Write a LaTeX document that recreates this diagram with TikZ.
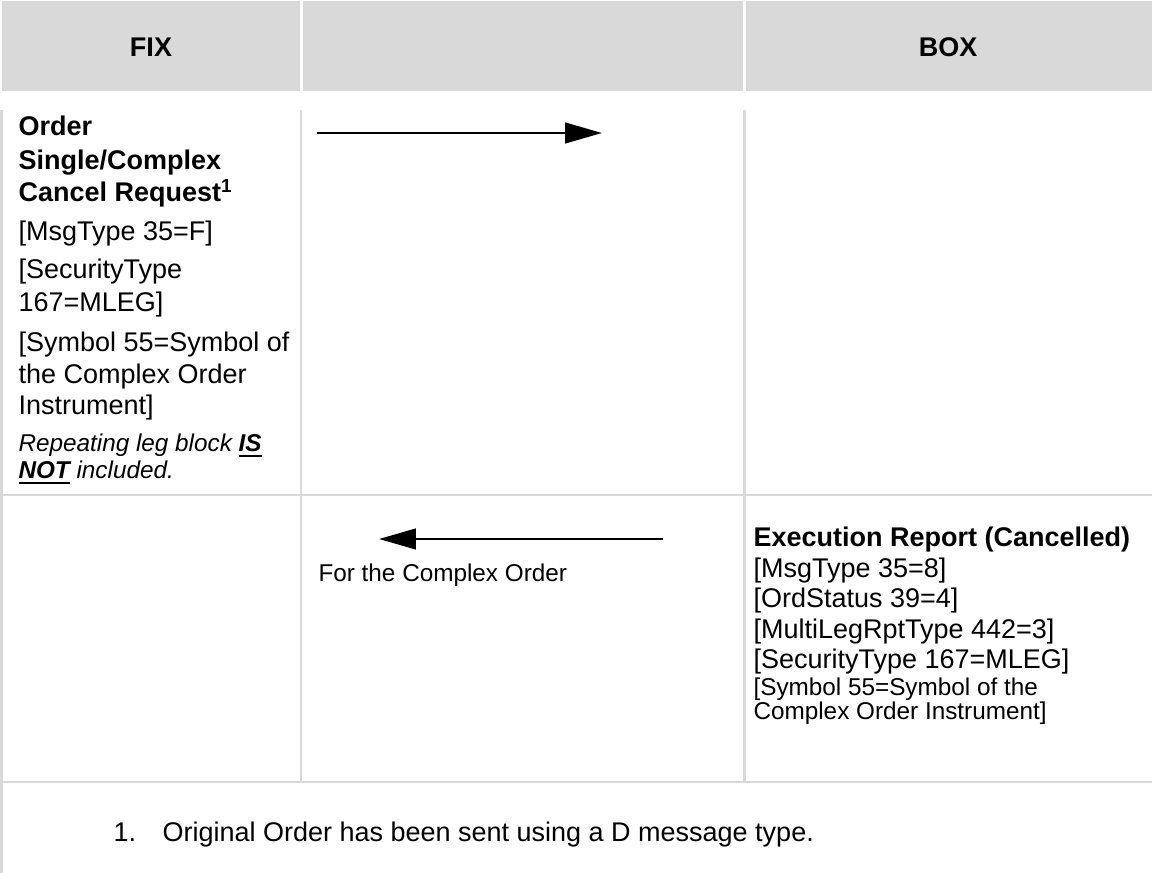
\documentclass[tikz,border=0pt]{standalone}
\usepackage{fontspec}
\setmainfont{Liberation Sans}
\usetikzlibrary{arrows.meta}
\definecolor{cellgray}{HTML}{D9D9D9}
% bold underline as in the word table
\def\bul#1{\setbox0\hbox{#1}\rlap{\rule[-2.4pt]{\wd0}{0.9pt}}\box0\relax}
\tikzset{
  hdr/.style={font=\bfseries, inner sep=0pt},
  txt/.style={anchor=base west, inner sep=0pt},
  txtb/.style={txt, font=\bfseries},
  txts/.style={txt, font=\small},
  rule/.style={draw=cellgray, line width=0.9pt},
  msg/.style={line width=1.1pt, -{Triangle[length=13.7pt,width=7.6pt]}},
}

\begin{document}
\begin{tikzpicture}[x=0.37037pt, y=-0.37037pt]
 \useasboundingbox (0,0) rectangle (1152,873);
 % header
 \fill[cellgray] (2,1) rectangle (300,91);
 \fill[cellgray] (303,1) rectangle (743,91);
 \fill[cellgray] (746,1) rectangle (1152,91);
 \node[hdr] (fix) at (151,47) {FIX};
 \node[hdr] (box) at (948,47) {BOX};
 % table rules
 \draw[rule] (1.5,110) -- (1.5,873);
 \draw[rule] (301,110) -- (301,782);
 \draw[rule] (744.5,110) -- (744.5,782);
 \draw[rule] (0,495) -- (1152,495);
 \draw[rule] (0,782) -- (1152,782);
 % cancel request
 \node[txtb] (req1) at (18,136) {Order};
 \node[txtb] (req2) at (18,169) {Single/Complex};
 \node[txtb] (req3) at (18,202) {Cancel Request\textsuperscript{1}};
 \node[txt] (req4) at (18,241) {[MsgType 35=F]};
 \node[txt] (req5) at (18,279) {[SecurityType};
 \node[txt] (req6) at (18,311) {167=MLEG]};
 \node[txt] (req7) at (18,351) {[Symbol 55=Symbol of};
 \node[txt] (req8) at (18,383) {the Complex Order};
 \node[txt] (req9) at (18,414) {Instrument]};
 \node[txts] (req10) at (18,451) {\itshape Repeating leg block \bul{\bfseries IS}};
 \node[txts] (req11) at (18,478) {\itshape \bul{\bfseries NOT} included.};
 \coordinate (reqa) at (317,133);
 \coordinate (reqb) at (602,133);
 \draw[msg] (reqa) -- (reqb);
 % execution report
 \coordinate (repa) at (663,539);
 \coordinate (repb) at (379,539);
 \draw[msg] (repa) -- (repb);
 \node[txts] (forc) at (318,581) {For the Complex Order};
 \node[txtb] (rep1) at (753,546) {Execution Report (Cancelled)};
 \node[txt] (rep2) at (753,577) {[MsgType 35=8]};
 \node[txt] (rep3) at (753,607) {[OrdStatus 39=4]};
 \node[txt] (rep4) at (753,638) {[MultiLegRptType 442=3]};
 \node[txt] (rep5) at (753,668) {[SecurityType 167=MLEG]};
 \node[txts] (rep6) at (753,695) {[Symbol 55=Symbol of the};
 \node[txts] (rep7) at (753,719) {Complex Order Instrument]};
 % footnote
 \node[txt] (fn) at (113,841) {1.};
 \node[txt] (fntext) at (162,841) {Original Order has been sent using a D message type.};
\end{tikzpicture}
\end{document}
